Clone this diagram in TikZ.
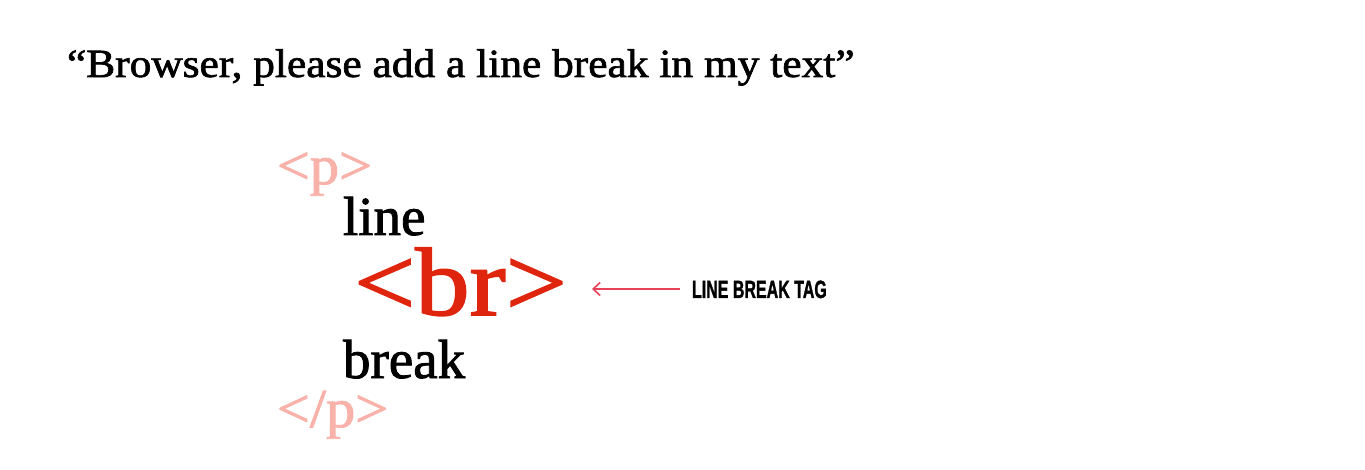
\documentclass[tikz,border=0pt]{standalone}
\usepackage{fontspec}
\setmainfont{Liberation Serif}[FakeBold=1.6]
\newfontfamily\labelfont{Liberation Sans}[FakeBold=1.5]
\usetikzlibrary{arrows.meta}
\definecolor{tagpink}{HTML}{F8B2AA}
\definecolor{tagred}{HTML}{E0250F}
\definecolor{arrowred}{HTML}{E8415A}
\tikzset{
  txt/.style={anchor=base west, inner sep=0pt, outer sep=0pt},
  pinktag/.style={txt, text=tagpink, font=\fontsize{55}{55}\selectfont},
  word/.style={txt, text=black, font=\fontsize{55}{55}\selectfont},
  pointer/.style={arrowred, line width=1.6pt, -{Straight Barb[length=7pt,width=13pt,line width=1.6pt]}},
}
\begin{document}
\begin{tikzpicture}[x=1pt,y=-1pt]
\useasboundingbox (0,0) rectangle (1365,470);
\node[txt, font=\fontsize{40}{40}\selectfont] (title) at (67,77) {\scalebox{1.085}[1]{“Browser, please add a line break in my text”}};
\node[pinktag] (popen) at (277,184) {\scalebox{1.06}[1]{<p>}};
\node[word] (line) at (343,235) {line};
\node[txt, text=tagred, font=\fontsize{97}{97}\selectfont] (br) at (354,315) {\scalebox{1.12}[1]{<br>}};
\node[word] (break) at (343,378) {break};
\node[pinktag] (pclose) at (277,427) {\scalebox{1.06}[1]{</p>}};
\node[txt, font=\labelfont\bfseries\fontsize{25}{25}\selectfont] (lbl) at (692,298) {\scalebox{0.64}[1]{LINE BREAK TAG}};
\coordinate (tip) at (592,289);
\coordinate (tail) at (680,289);
\draw[pointer] (tail) -- (tip);
\end{tikzpicture}
\end{document}
